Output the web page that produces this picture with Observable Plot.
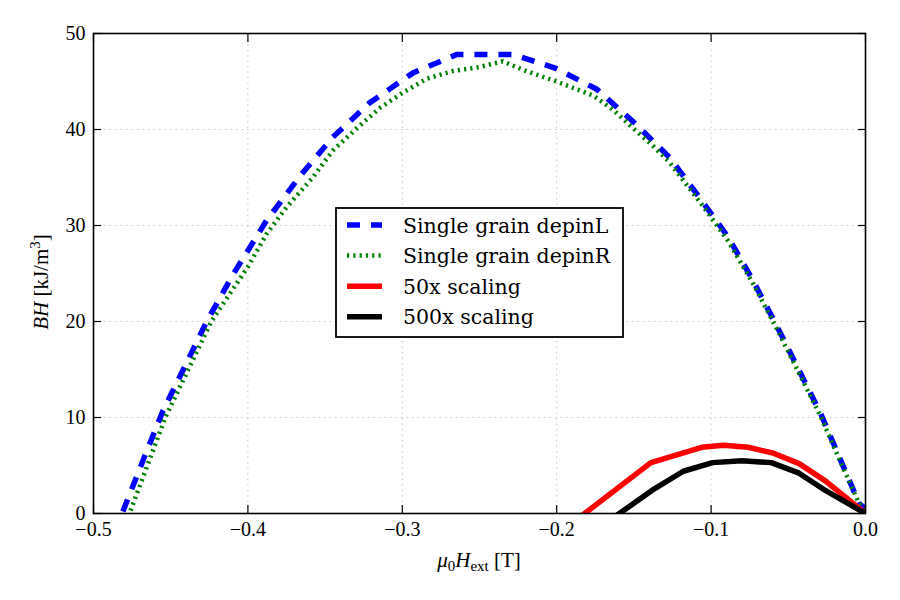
<!DOCTYPE html>
<html>
<head>
<meta charset="utf-8">
<script src="https://cdn.jsdelivr.net/npm/d3@7"></script>
<script src="https://cdn.jsdelivr.net/npm/@observablehq/plot@0.6"></script>
<style>
  html, body { margin: 0; padding: 0; background: #fff; }
  #chart { position: relative; width: 900px; height: 600px; }
</style>
</head>
<body>
<div id="chart"></div>
<script>
// Energy product BH versus applied field for the single-grain and scaled models
const xTicks = [-0.5, -0.4, -0.3, -0.2, -0.1, 0.0];
const yTicks = [0, 10, 20, 30, 40, 50];

const seriesNames = ["Single grain depinL", "Single grain depinR", "50x scaling", "500x scaling"];
const seriesColors = ["#0000ff", "#008000", "#ff0000", "#000000"];

// Single grain, left depinning (T, kJ/m^3)
const depinLField = [-0.481, -0.467, -0.455, -0.440, -0.427, -0.410, -0.388, -0.366, -0.345, -0.321,
  -0.293, -0.265, -0.228, -0.201, -0.174, -0.149, -0.127, -0.107, -0.089, -0.073,
  -0.057, -0.043, -0.029, -0.016, -0.004, 0.0];
const depinLBH = [0.2, 5.9, 10.7, 15.6, 19.9, 24.8, 30.5, 35.2, 39.2, 42.8,
  45.9, 47.8, 47.8, 46.4, 44.2, 40.6, 37.1, 32.8, 28.8, 24.3,
  19.4, 14.9, 10.4, 5.5, 1.0, 0.5];

// Single grain, right depinning
const depinRField = [-0.476, -0.4535, -0.4237, -0.400, -0.388, -0.375, -0.358, -0.345, -0.329, -0.314,
  -0.299, -0.284, -0.267, -0.250, -0.235, -0.220, -0.200, -0.176, -0.163, -0.151,
  -0.137, -0.127, -0.107, -0.089, -0.073, -0.057, -0.043, -0.029, -0.016, -0.004, 0.0];
const depinRBH = [0.3, 10.0, 20.0, 25.7, 29.1, 31.9, 35.0, 37.8, 40.2, 42.3,
  43.9, 45.3, 46.1, 46.5, 47.1, 46.1, 45.0, 43.5, 42.0, 40.2,
  38.2, 36.6, 32.4, 28.4, 24.0, 19.1, 14.6, 10.1, 5.3, 1.0, 0.6];

// 50x scaled model
const scale50Field = [-0.19, -0.139, -0.106, -0.092, -0.076, -0.060, -0.043, -0.026, 0.0];
const scale50BH = [-1.0, 5.3, 6.9, 7.1, 6.9, 6.3, 5.2, 3.4, 0.0];

// 500x scaled model
const scale500Field = [-0.17, -0.1365, -0.118, -0.099, -0.080, -0.061, -0.043, -0.026, 0.0];
const scale500BH = [-1.2, 2.6, 4.4, 5.3, 5.5, 5.3, 4.2, 2.4, 0.0];

const zip = (xs, ys) => xs.map((x, i) => ({field: x, bh: ys[i]}));
const seriesData = [
  zip(depinLField, depinLBH),
  zip(depinRField, depinRBH),
  zip(scale50Field, scale50BH),
  zip(scale500Field, scale500BH)
];
const seriesStyles = [
  {strokeWidth: 5.5, strokeDasharray: "13,11", strokeLinecap: "butt"},
  {strokeWidth: 4.5, strokeDasharray: "2.2,4.1", strokeLinecap: "butt"},
  {strokeWidth: 5.5, strokeLinecap: "butt"},
  {strokeWidth: 5.5, strokeLinecap: "butt"}
];

const fmtX = d3.format(".1f");
const fmtY = d3.format("d");

const plot = Plot.plot({
  width: 900,
  height: 600,
  marginLeft: 93,
  marginRight: 35,
  marginTop: 33,
  marginBottom: 87,
  style: {fontFamily: "'Liberation Serif', serif", fontSize: "20px", background: "#fff", color: "#000"},
  x: {domain: [-0.5, 0.0]},
  y: {domain: [0, 50]},
  marks: [
    Plot.gridX(xTicks, {stroke: "#000", strokeOpacity: 0.22, strokeDasharray: "1.5,4"}),
    Plot.gridY(yTicks, {stroke: "#000", strokeOpacity: 0.22, strokeDasharray: "1.5,4"}),
    ...seriesData.map((d, i) => Plot.line(d, {
      x: "field", y: "bh", stroke: seriesColors[i], strokeLinejoin: "round", clip: true, ...seriesStyles[i]
    })),
    Plot.frame({stroke: "#000", strokeWidth: 1.6}),
    // inward tick marks on all four sides
    Plot.axisX({ticks: xTicks, anchor: "bottom", tickSize: -8, fill: "none", label: null, strokeWidth: 1.2}),
    Plot.axisX({ticks: xTicks, anchor: "top", tickSize: -8, fill: "none", label: null, strokeWidth: 1.2}),
    Plot.axisY({ticks: yTicks, anchor: "left", tickSize: -8, fill: "none", label: null, strokeWidth: 1.2}),
    Plot.axisY({ticks: yTicks, anchor: "right", tickSize: -8, fill: "none", label: null, strokeWidth: 1.2}),
    // tick labels
    Plot.axisX({ticks: xTicks, anchor: "bottom", tickSize: 0, tickPadding: 8, tickFormat: fmtX, label: null}),
    Plot.axisY({ticks: yTicks, anchor: "left", tickSize: 0, tickPadding: 8, tickFormat: fmtY, label: null})
  ]
});

document.getElementById("chart").appendChild(plot);

const svg = d3.select(plot);
const serif = "'Liberation Serif', serif";

// x-axis title: mu_0 H_ext [T]
const xl = svg.append("text")
  .attr("x", (93 + 865) / 2).attr("y", 567)
  .attr("text-anchor", "middle")
  .attr("font-family", serif).attr("font-size", 21).attr("fill", "#000");
xl.append("tspan").attr("font-style", "italic").text("μ");
xl.append("tspan").attr("font-size", 15).attr("dy", 4).text("0");
xl.append("tspan").attr("font-style", "italic").attr("dy", -4).text("H");
xl.append("tspan").attr("font-size", 15).attr("dy", 4).text("ext");
xl.append("tspan").attr("dy", -4).text(" [T]");

// y-axis title: BH [kJ/m^3]
const yl = svg.append("text")
  .attr("transform", "translate(48,282) rotate(-90)")
  .attr("text-anchor", "middle")
  .attr("font-family", serif).attr("font-size", 21).attr("fill", "#000");
yl.append("tspan").attr("font-style", "italic").text("BH");
yl.append("tspan").text(" [kJ/m");
yl.append("tspan").attr("font-size", 15).attr("dy", -8).text("3");
yl.append("tspan").attr("dy", 8).text("]");

// legend box
const lg = svg.append("g").attr("transform", "translate(336,208)");
lg.append("rect").attr("x", 0).attr("y", 0).attr("width", 287).attr("height", 129)
  .attr("fill", "#fff").attr("stroke", "#000").attr("stroke-width", 1.8);
seriesNames.forEach((name, i) => {
  const cy = 17 + 30.6 * i;
  const st = seriesStyles[i];
  lg.append("line").attr("x1", 11).attr("x2", 46).attr("y1", cy).attr("y2", cy)
    .attr("stroke", seriesColors[i]).attr("stroke-width", st.strokeWidth)
    .attr("stroke-dasharray", st.strokeDasharray || null);
  lg.append("text").attr("x", 67).attr("y", cy + 7.5)
    .attr("text-anchor", "start")
    .attr("font-family", "'DejaVu Serif', serif").attr("font-size", 20.5).attr("fill", "#000")
    .text(name);
});
</script>
</body>
</html>
